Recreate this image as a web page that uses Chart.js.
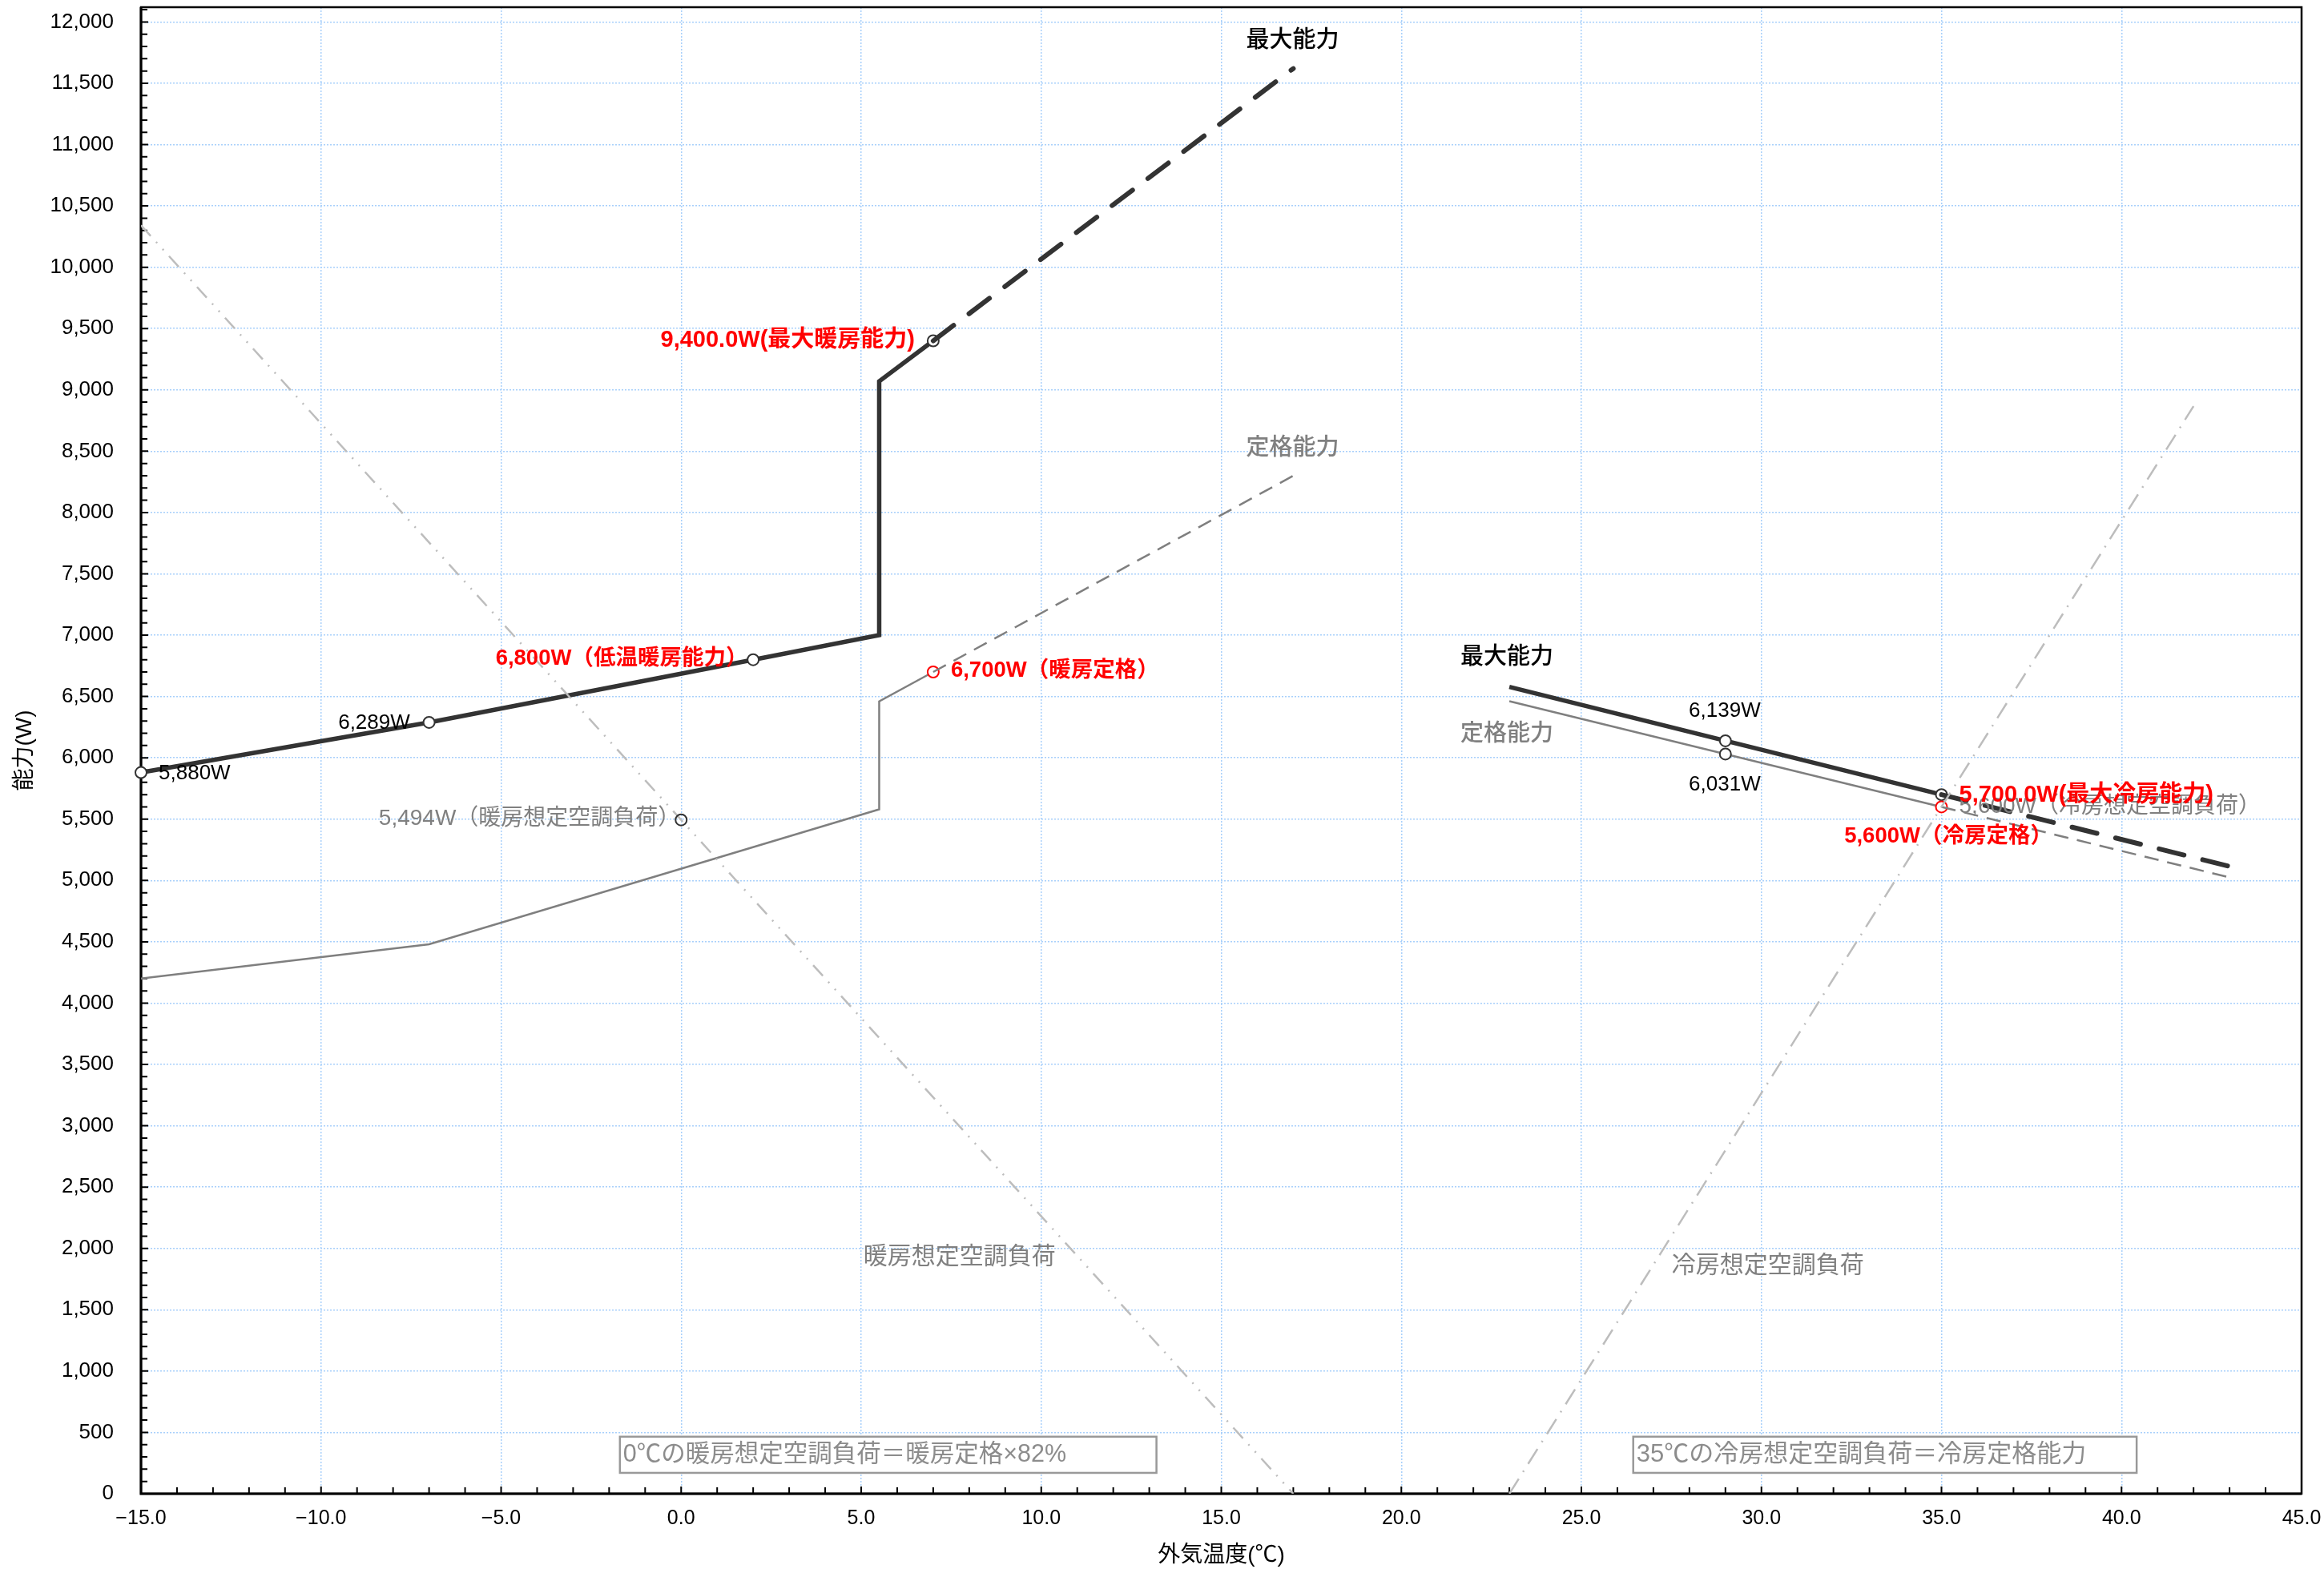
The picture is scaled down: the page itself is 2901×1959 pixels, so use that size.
<!DOCTYPE html>
<html lang="ja">
<head>
<meta charset="utf-8">
<title>能力グラフ</title>
<script src="https://cdn.jsdelivr.net/npm/chart.js@4.4.1/dist/chart.umd.min.js"></script>
<style>
  html, body { margin: 0; padding: 0; background: #fff; }
  #wrap { width: 2901px; height: 1959px; }
</style>
</head>
<body>
<div id="wrap"><canvas id="chart" width="2901" height="1959"></canvas></div>
<script>
// 軸
const xMin = -15, xMax = 45, xStep = 5;
const yMin = 0, yMax = 12120;
const yTicks = [0, 500, 1000, 1500, 2000, 2500, 3000, 3500, 4000, 4500, 5000, 5500, 6000,
    6500, 7000, 7500, 8000, 8500, 9000, 9500, 10000, 10500, 11000, 11500, 12000];

// 暖房 最大能力
const heatMaxT = [-15, -7, 2, 5.5, 5.5, 7];
const heatMaxW = [5880, 6289, 6800, 7000, 9070, 9400];
const heatMaxExtT = [7, 17];
const heatMaxExtW = [9400, 11620];

// 暖房 定格能力
const heatRatedT = [-15, -7, 5.5, 5.5, 7];
const heatRatedW = [4200, 4480, 5580, 6460, 6700];
const heatRatedExtT = [7, 17];
const heatRatedExtW = [6700, 8300];

// 暖房想定空調負荷
const heatLoadT = [-15, 0, 17];
const heatLoadW = [10342, 5494, 0];

// 冷房 最大能力
const coolMaxT = [23, 29, 35];
const coolMaxW = [6578, 6139, 5700];
const coolMaxExtT = [35, 43];
const coolMaxExtW = [5700, 5115];

// 冷房 定格能力
const coolRatedT = [23, 29, 35];
const coolRatedW = [6462, 6031, 5600];
const coolRatedExtT = [35, 43];
const coolRatedExtW = [5600, 5025];

// 冷房想定空調負荷
const coolLoadT = [23, 35, 42];
const coolLoadW = [0, 5600, 8867];

const pts = (xs, ys) => xs.map((x, i) => ({ x: x, y: ys[i] }));

const DARK = '#333333', RATED = '#7f7f7f', LOAD = '#bdbdbd', RED = '#ff0000', GRAY_TXT = '#808080';
const FONT = '"Liberation Sans", "Noto Sans CJK JP", sans-serif';
const CJK = '"Noto Sans CJK JP", sans-serif';

// 注記テキスト
const notes = [
    { text: '最大能力', t: 16.98, w: 11868, align: 'center', color: '#000', font: '500 29px ' + CJK },
    { text: '定格能力', t: 16.98, w: 8543, align: 'center', color: GRAY_TXT, font: '500 29px ' + CJK },
    { text: '9,400.0W(最大暖房能力)', t: 6.49, w: 9402, align: 'right', color: RED, font: 'bold 29px ' + FONT },
    { text: '6,800W（低温暖房能力）', t: 1.85, w: 6806, align: 'right', color: RED, font: 'bold 27.5px ' + FONT },
    { text: '6,700W（暖房定格）', t: 7.49, w: 6708, align: 'left', color: RED, font: 'bold 27.5px ' + FONT },
    { text: '6,289W', t: -7.53, w: 6283, align: 'right', color: '#000', font: '26px ' + FONT },
    { text: '5,880W', t: -14.51, w: 5872, align: 'left', color: '#000', font: '26px ' + FONT },
    { text: '5,494W（暖房想定空調負荷）', t: -0.02, w: 5500, align: 'right', color: GRAY_TXT, font: '28px ' + FONT },
    { text: '暖房想定空調負荷', t: 7.73, w: 1946, align: 'center', color: GRAY_TXT, font: '30px ' + CJK },
    { text: '冷房想定空調負荷', t: 30.18, w: 1875, align: 'center', color: GRAY_TXT, font: '30px ' + CJK },
    { text: '最大能力', t: 22.93, w: 6839, align: 'center', color: '#000', font: '500 29px ' + CJK },
    { text: '定格能力', t: 22.93, w: 6212, align: 'center', color: GRAY_TXT, font: '500 29px ' + CJK },
    { text: '6,139W', t: 28.98, w: 6381, align: 'center', color: '#000', font: '26px ' + FONT },
    { text: '6,031W', t: 28.98, w: 5780, align: 'center', color: '#000', font: '26px ' + FONT },
    { text: '5,600W（冷房想定空調負荷）', t: 35.49, w: 5598, align: 'left', color: GRAY_TXT, font: '28px ' + FONT },
    { text: '5,700.0W(最大冷房能力)', t: 35.49, w: 5696, align: 'left', color: RED, font: 'bold 29px ' + FONT },
    { text: '5,600W（冷房定格）', t: 38.08, w: 5356, align: 'right', color: RED, font: 'bold 27.5px ' + FONT }
];

const boxes = [
    { text: '0℃の暖房想定空調負荷＝暖房定格×82%', t0: -1.7, t1: 13.2, w0: 170, w1: 465, size: 30.5 },
    { text: '35℃の冷房想定空調負荷＝冷房定格能力', t0: 26.44, t1: 40.42, w0: 170, w1: 465, size: 31 }
];

// 枠と内向きの目盛り
const frameTicks = {
    id: 'frameTicks',
    beforeDatasetsDraw(chart) {
        const { ctx, chartArea: a, scales: { x, y } } = chart;
        ctx.save();
        ctx.strokeStyle = '#000';
        ctx.lineWidth = 2;
        ctx.beginPath();
        for (let t = xMin; t <= xMax; t += 1) {
            const px = x.getPixelForValue(t);
            ctx.moveTo(px, a.bottom);
            ctx.lineTo(px, a.bottom - (t % 5 === 0 ? 9 : 8));
        }
        for (let w = yMin; w <= yMax; w += 100) {
            const py = y.getPixelForValue(w);
            ctx.moveTo(a.left, py);
            ctx.lineTo(a.left + (w % 500 === 0 ? 9 : 8), py);
        }
        ctx.stroke();
        ctx.lineWidth = 2.5;
        ctx.strokeRect(a.left, a.top, a.right - a.left, a.bottom - a.top);
        ctx.lineWidth = 3;
        ctx.beginPath();
        ctx.moveTo(a.left, a.top);
        ctx.lineTo(a.left, a.bottom);
        ctx.lineTo(a.right, a.bottom);
        ctx.stroke();
        ctx.restore();
    }
};

// 注記
const noteLabels = {
    id: 'noteLabels',
    afterDatasetsDraw(chart) {
        const { ctx, scales: { x, y } } = chart;
        ctx.save();
        ctx.textBaseline = 'middle';
        boxes.forEach(b => {
            const x0 = x.getPixelForValue(b.t0), x1 = x.getPixelForValue(b.t1);
            const y0 = y.getPixelForValue(b.w1), y1 = y.getPixelForValue(b.w0);
            ctx.fillStyle = '#fff';
            ctx.fillRect(x0, y0, x1 - x0, y1 - y0);
            ctx.strokeStyle = '#999';
            ctx.lineWidth = 2.5;
            ctx.strokeRect(x0, y0, x1 - x0, y1 - y0);
            ctx.fillStyle = '#8c8c8c';
            ctx.font = b.size + 'px ' + FONT;
            ctx.textAlign = 'left';
            ctx.fillText(b.text, x0 + 4, (y0 + y1) / 2);
        });
        notes.forEach(n => {
            ctx.font = n.font;
            ctx.fillStyle = n.color;
            ctx.textAlign = n.align;
            ctx.fillText(n.text, x.getPixelForValue(n.t), y.getPixelForValue(n.w));
        });
        ctx.restore();
    }
};

const ctx = document.getElementById('chart').getContext('2d');
const chart = new Chart(ctx, {
    type: 'line',
    data: {
        datasets: [
            {
                label: '暖房想定空調負荷',
                data: pts(heatLoadT, heatLoadW),
                borderColor: LOAD, borderWidth: 2.5, borderDash: [18, 10, 2, 10, 2, 10],
                pointRadius: [0, 7, 0], pointBorderColor: DARK, pointBorderWidth: 2,
                pointBackgroundColor: 'rgba(255,255,255,0)'
            },
            {
                label: '冷房想定空調負荷',
                data: pts(coolLoadT, coolLoadW),
                borderColor: LOAD, borderWidth: 2.5, borderDash: [22, 10, 2, 10],
                pointRadius: 0
            },
            {
                label: '暖房定格能力(延長)',
                data: pts(heatRatedExtT, heatRatedExtW),
                borderColor: RATED, borderWidth: 2.5, borderDash: [18, 11],
                pointRadius: 0
            },
            {
                label: '暖房定格能力',
                data: pts(heatRatedT, heatRatedW),
                borderColor: RATED, borderWidth: 2.5,
                pointRadius: [0, 0, 0, 0, 7], pointBorderColor: RED, pointBorderWidth: 2,
                pointBackgroundColor: '#fff'
            },
            {
                label: '暖房最大能力(延長)',
                data: pts(heatMaxExtT, heatMaxExtW),
                borderColor: DARK, borderWidth: 6, borderDash: [32, 24], borderCapStyle: 'round',
                pointRadius: 0
            },
            {
                label: '暖房最大能力',
                data: pts(heatMaxT, heatMaxW),
                borderColor: DARK, borderWidth: 5.5, clip: false,
                pointRadius: [7, 7, 7, 0, 0, 7], pointBorderColor: DARK, pointBorderWidth: 2,
                pointBackgroundColor: '#fff'
            },
            {
                label: '冷房定格能力(延長)',
                data: pts(coolRatedExtT, coolRatedExtW),
                borderColor: RATED, borderWidth: 2.5, borderDash: [18, 11],
                pointRadius: 0
            },
            {
                label: '冷房最大能力(延長)',
                data: pts(coolMaxExtT, coolMaxExtW),
                borderColor: DARK, borderWidth: 6, borderDash: [32, 24], borderCapStyle: 'round',
                pointRadius: 0
            },
            {
                label: '冷房定格能力',
                data: pts(coolRatedT, coolRatedW),
                borderColor: RATED, borderWidth: 2.5,
                pointRadius: [0, 7, 7], pointBorderColor: [DARK, DARK, RED], pointBorderWidth: 2,
                pointBackgroundColor: '#fff'
            },
            {
                label: '冷房最大能力',
                data: pts(coolMaxT, coolMaxW),
                borderColor: DARK, borderWidth: 5.5,
                pointRadius: [0, 7, 7], pointBorderColor: DARK, pointBorderWidth: 2,
                pointBackgroundColor: '#fff'
            }
        ]
    },
    options: {
        responsive: false,
        animation: false,
        devicePixelRatio: 1,
        layout: { padding: { top: 9, right: 28, left: 0, bottom: 0 } },
        elements: { line: { tension: 0, fill: false } },
        plugins: { legend: { display: false }, tooltip: { enabled: false } },
        scales: {
            x: {
                type: 'linear', min: xMin, max: xMax,
                ticks: {
                    stepSize: xStep, padding: 16, color: '#000',
                    font: { family: FONT, size: 25 },
                    callback: v => (v < 0 ? '\u2212' : '') + Math.abs(v).toFixed(1)
                },
                grid: { color: '#a8d0fb', lineWidth: 1.5, drawTicks: false },
                border: { display: false, dash: [2, 2] },
                title: {
                    display: true, text: '外気温度(℃)', color: '#000',
                    font: { family: FONT, size: 28 }, padding: { top: 4, bottom: 0 }
                },
                afterFit: s => { s.height = 94; s.paddingLeft = 0; s.paddingRight = 0; }
            },
            y: {
                type: 'linear', min: yMin, max: yMax,
                afterBuildTicks: s => { s.ticks = yTicks.map(v => ({ value: v })); },
                ticks: {
                    padding: 34, color: '#000',
                    font: { family: FONT, size: 26 },
                    callback: v => v.toLocaleString('en-US')
                },
                grid: { color: '#a8d0fb', lineWidth: 1.5, drawTicks: false },
                border: { display: false, dash: [2, 2] },
                title: {
                    display: true, text: '能力(W)', color: '#000',
                    font: { family: FONT, size: 28 }, padding: { top: 14, bottom: 0 }
                },
                afterFit: s => { s.width = 176; s.paddingTop = 0; s.paddingBottom = 0; }
            }
        }
    },
    plugins: [frameTicks, noteLabels]
});
</script>
</body>
</html>
